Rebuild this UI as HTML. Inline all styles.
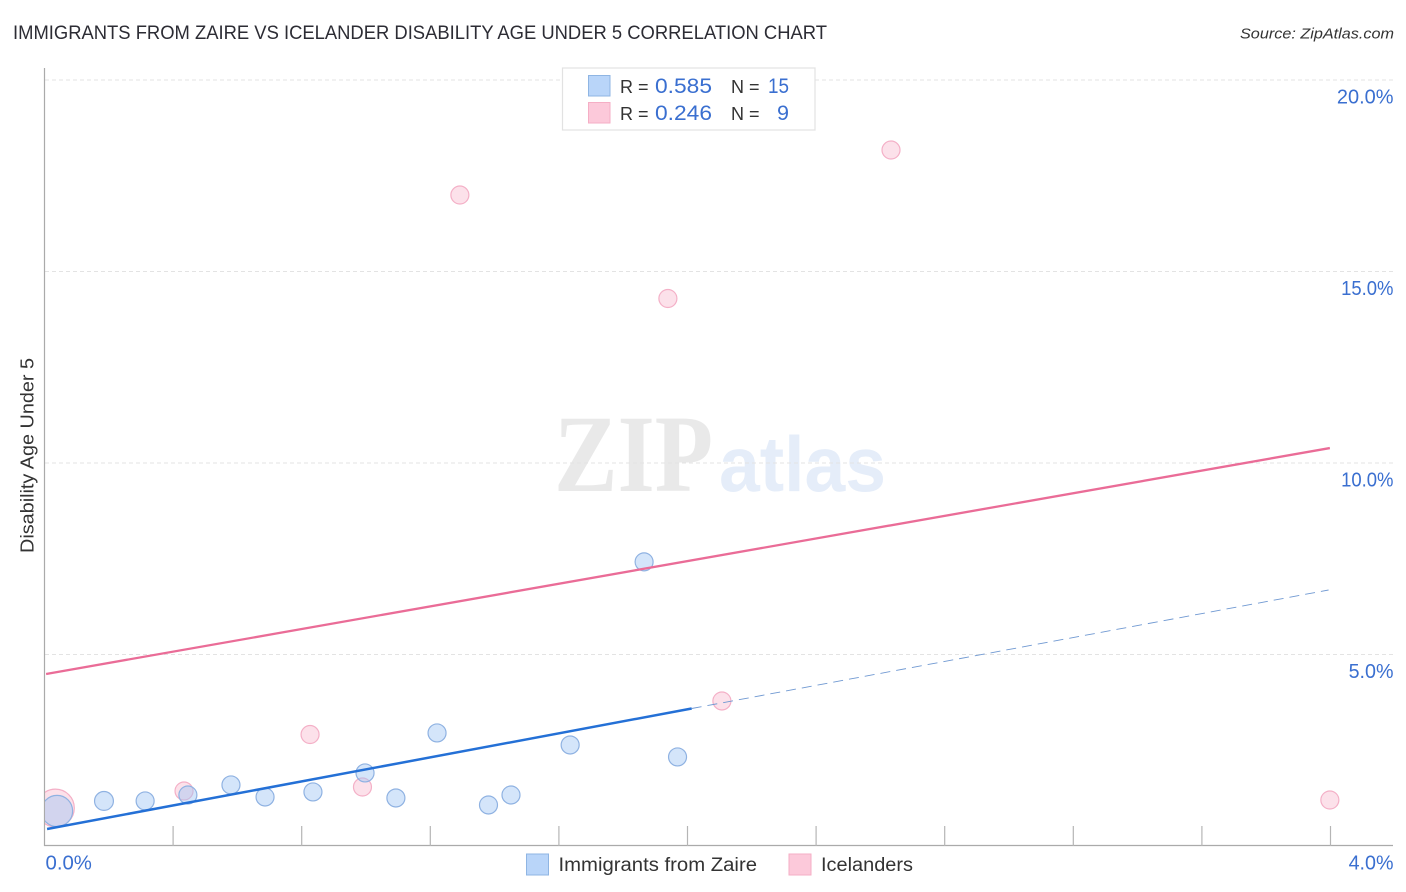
<!DOCTYPE html>
<html lang="en">
<head>
<meta charset="utf-8">
<title>Immigrants from Zaire vs Icelander Disability Age Under 5 Correlation Chart</title>
<style>
html,body{margin:0;padding:0;background:#fff;width:1406px;height:892px;overflow:hidden}
svg{display:block}
text{font-family:"Liberation Sans",sans-serif}
</style>
</head>
<body>
<svg id="chart" xmlns="http://www.w3.org/2000/svg" width="1406" height="892" viewBox="0 0 1406 892">
  <defs>
    <clipPath id="plot-clip"><rect x="45" y="60" width="1350" height="786"/></clipPath>
  </defs>
  <rect x="0" y="0" width="1406" height="892" fill="#fff"/>
  <text x="13" y="39" font-size="19" fill="#2c2c34" textLength="814" lengthAdjust="spacingAndGlyphs">IMMIGRANTS FROM ZAIRE VS ICELANDER DISABILITY AGE UNDER 5 CORRELATION CHART</text>
  <text x="1394" y="38.5" font-size="15" font-style="italic" fill="#333" text-anchor="end" textLength="154" lengthAdjust="spacingAndGlyphs">Source: ZipAtlas.com</text>
  <g>
    <text style="font-family:'Liberation Serif',serif" x="554" y="491" font-size="110" font-weight="bold" fill="#e9e9e9" textLength="159" lengthAdjust="spacingAndGlyphs">ZIP</text>
    <text x="719" y="491" font-size="78" font-weight="bold" fill="#e5edf9" textLength="167" lengthAdjust="spacingAndGlyphs">atlas</text>
  </g>
  <g id="grid"></g>
  <g id="axes"></g>
  <g id="marks-pink" clip-path="url(#plot-clip)"></g>
  <g id="marks-blue" clip-path="url(#plot-clip)"></g>
  <g id="trends"></g>
  <text transform="translate(33.5,455.5) rotate(-90)" font-size="18" fill="#333" text-anchor="middle" textLength="195" lengthAdjust="spacingAndGlyphs">Disability Age Under 5</text>

  <g>
    <rect x="562.5" y="68" width="252.5" height="62" fill="#fff" stroke="#e2e2e2" stroke-width="1.2"/>
    <rect x="588.5" y="75.5" width="21.5" height="20.5" fill="#b9d5f9" stroke="#8fb5e3" stroke-width="1"/>
    <rect x="588.5" y="102.5" width="21.5" height="20.5" fill="#fcc9da" stroke="#f5aec5" stroke-width="1"/>
    <text x="620" y="93" font-size="18" fill="#333">R =</text>
    <text x="655" y="93" font-size="21" fill="#3a6fd0" textLength="57" lengthAdjust="spacingAndGlyphs">0.585</text>
    <text x="731" y="93" font-size="18" fill="#333">N =</text>
    <text x="768" y="93" font-size="21" fill="#3a6fd0" textLength="21" lengthAdjust="spacingAndGlyphs">15</text>
    <text x="620" y="120" font-size="18" fill="#333">R =</text>
    <text x="655" y="120" font-size="21" fill="#3a6fd0" textLength="57" lengthAdjust="spacingAndGlyphs">0.246</text>
    <text x="731" y="120" font-size="18" fill="#333">N =</text>
    <text x="777" y="120" font-size="21" fill="#3a6fd0" textLength="12" lengthAdjust="spacingAndGlyphs">9</text>
  </g>

  <g>
    <g>
      <rect x="526.5" y="854" width="22" height="21" fill="#b9d5f9" stroke="#8fb5e3" stroke-width="1"/>
      <text x="558.5" y="871" font-size="19" fill="#333" textLength="198.5" lengthAdjust="spacingAndGlyphs">Immigrants from Zaire</text>
    </g>
    <g>
      <rect x="789" y="854" width="22" height="21" fill="#fcc9da" stroke="#f5aec5" stroke-width="1"/>
      <text x="821" y="871" font-size="19" fill="#333" textLength="92" lengthAdjust="spacingAndGlyphs">Icelanders</text>
    </g>
  </g>
</svg>
<script>
// Data (percent values)
const yTickValues = [5, 10, 15, 20];
const yTickLabels = ['5.0%', '10.0%', '15.0%', '20.0%'];
const xTickValues = [0.4, 0.8, 1.2, 1.6, 2.0, 2.4, 2.8, 3.2, 3.6, 4.0];
const xEndValues = [0, 4];
const xEndLabels = ['0.0%', '4.0%'];

const zaireX = [0.039, 0.185, 0.313, 0.446, 0.580, 0.686, 0.835, 0.997, 1.093, 1.221, 1.381, 1.451, 1.635, 1.865, 1.969];
const zaireY = [0.914, 1.176, 1.176, 1.332, 1.594, 1.280, 1.411, 1.907, 1.254, 2.952, 1.071, 1.332, 2.638, 7.419, 2.325];
const zaireWeight = [3.0, 1.1, 1, 1, 1, 1, 1, 1, 1, 1, 1, 1, 1, 1, 1];

const icelandX = [0.034, 0.434, 0.826, 0.989, 1.292, 1.939, 2.107, 2.633, 3.998];
const icelandY = [0.992, 1.436, 2.911, 1.540, 16.997, 14.295, 3.786, 18.172, 1.201];
const icelandWeight = [4.4, 1, 1, 1, 1, 1, 1, 1, 1];

const zaireTrendX = [0.008, 2.013];
const zaireTrendY = [0.444, 3.590];
const zaireProjX = [2.013, 3.994];
const zaireProjY = [3.590, 6.684];
const icelandTrendX = [0.005, 3.998];
const icelandTrendY = [4.491, 10.39];

// Axis functions
const xScale = v => 44.5 + v * 321.5;
const yScale = v => 846 - v * 38.3;
const rScale = w => 9 * Math.sqrt(w);

// Tick label width: the reference face has a narrow "1" and wide "%"
function labelWidth(s) {
  let w = 0;
  for (const ch of s) {
    if (ch === '1') w += 7.5;
    else if (ch === '.') w += 4.5;
    else if (ch === '%') w += 17;
    else w += 11.7;
  }
  return w;
}

const NS = 'http://www.w3.org/2000/svg';
function make(parent, tag, attrs, txt) {
  const el = document.createElementNS(NS, tag);
  for (const k in attrs) el.setAttribute(k, attrs[k]);
  if (txt !== undefined) el.textContent = txt;
  parent.appendChild(el);
  return el;
}

const grid = document.getElementById('grid');
const axes = document.getElementById('axes');

yTickValues.forEach((v, i) => {
  const line = make(grid, 'line', {x1: 45, x2: 1393, y1: yScale(v), y2: yScale(v), stroke: '#e3e3e3', 'stroke-width': 1, 'stroke-dasharray': '4 3'});
  
  
  const label = make(axes, 'text', {x: 1393.5, y: yScale(v) + 23.5, 'font-size': 20, fill: '#3a6fd0', 'text-anchor': 'end', textLength: labelWidth(yTickLabels[i]), lengthAdjust: 'spacingAndGlyphs'}, yTickLabels[i]);
  
  
});

const yAxis = make(axes, 'line', {x1: 44.5, x2: 44.5, y1: 68, y2: 846, stroke: '#aaa', 'stroke-width': 1.2});



const xAxis = make(axes, 'line', {x1: 44, x2: 1393, y1: 845.5, y2: 845.5, stroke: '#aaa', 'stroke-width': 1.2});



xTickValues.forEach(v => {
  const tick = make(axes, 'line', {x1: xScale(v), x2: xScale(v), y1: 826, y2: 846, stroke: '#b5b5b5', 'stroke-width': 1.2});
  
  
});

xEndValues.forEach((v, i) => {
  const attrs = i === 0
    ? {x: xScale(v) + 1, y: 869.5, 'font-size': 20, fill: '#3a6fd0', textLength: labelWidth(xEndLabels[i]) + 1.5, lengthAdjust: 'spacingAndGlyphs'}
    : {x: 1393.5, y: 869.5, 'font-size': 20, fill: '#3a6fd0', 'text-anchor': 'end', textLength: labelWidth(xEndLabels[i]), lengthAdjust: 'spacingAndGlyphs'};
  const label = make(axes, 'text', attrs, xEndLabels[i]);
  
  
});

const pinkGroup = document.getElementById('marks-pink');
icelandX.forEach((v, i) => {
  const c = make(pinkGroup, 'circle', {cx: xScale(v), cy: yScale(icelandY[i]), r: rScale(icelandWeight[i]), fill: 'rgba(248,180,203,0.4)', stroke: '#f4b0c7', 'stroke-width': 1.2});
  
  
});

const blueGroup = document.getElementById('marks-blue');
zaireX.forEach((v, i) => {
  const c = make(blueGroup, 'circle', {cx: xScale(v), cy: yScale(zaireY[i]), r: rScale(zaireWeight[i]), fill: 'rgba(160,198,244,0.45)', stroke: '#8fb2e2', 'stroke-width': 1.2});
  
  
});

const trends = document.getElementById('trends');
const pinkLine = make(trends, 'line', {x1: xScale(icelandTrendX[0]), y1: yScale(icelandTrendY[0]), x2: xScale(icelandTrendX[1]), y2: yScale(icelandTrendY[1]), stroke: '#ea6c97', 'stroke-width': 2.3});



const blueLine = make(trends, 'line', {x1: xScale(zaireTrendX[0]), y1: yScale(zaireTrendY[0]), x2: xScale(zaireTrendX[1]), y2: yScale(zaireTrendY[1]), stroke: '#2470d6', 'stroke-width': 2.5});



const blueProj = make(trends, 'line', {x1: xScale(zaireProjX[0]), y1: yScale(zaireProjY[0]), x2: xScale(zaireProjX[1]), y2: yScale(zaireProjY[1]), stroke: '#7099d2', 'stroke-width': 0.9, 'stroke-dasharray': '10 6'});


</script>
</body>
</html>
